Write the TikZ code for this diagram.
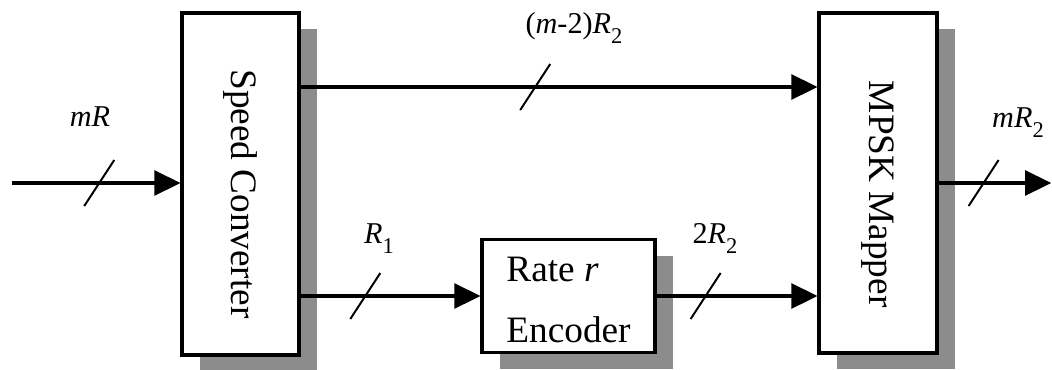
\documentclass[tikz,border=0pt]{standalone}
\usepackage{fontspec}
\setmainfont{Liberation Serif}
\usetikzlibrary{arrows.meta,positioning,shadows}
\newcommand{\idx}[1]{\raisebox{-0.35em}{\fontsize{16}{16}\selectfont #1}}

\begin{document}
\begin{tikzpicture}[
  block/.style={draw, line width=2.2pt, fill=white, drop shadow={shadow xshift=0.45cm, shadow yshift=-0.4cm, fill=black!45, opacity=1}},
  blocktext/.style={font=\fontsize{26.5}{44}\selectfont, inner sep=0pt},
  lbl/.style={font=\fontsize{21.5}{26}\selectfont, anchor=base, inner sep=0pt},
  arr/.style={-{Triangle[length=0.65cm, width=0.62cm]}, line width=2.4pt},
  tick/.style={line width=1.4pt},
]
  \useasboundingbox (0,0) rectangle (26.3,9.225);

  % Blocks
  \node[block, minimum width=2.925cm, minimum height=8.55cm] (conv) at (6.0125,4.625) {};
  \node[block, minimum width=4.325cm, minimum height=2.825cm] (enc) at (14.2125,1.825) {};
  \node[block, minimum width=2.95cm, minimum height=8.5cm] (mapper) at (21.95,4.65) {};

  % Block texts
  \node[blocktext, rotate=-90] (convtext) at ([yshift=-0.25cm]conv.center) {Speed Converter};
  \node[blocktext, rotate=-90] (maptext) at ([yshift=-0.28cm]mapper.center) {MPSK Mapper};
  \node[blocktext, align=left] (enctext) at ([yshift=-0.1cm]enc.center) {Rate \textit{r}\\Encoder};

  % Connectors
  \coordinate (in) at (0.3,4.65);
  \coordinate (out) at (26.28,4.65);
  \coordinate (hi) at ([yshift=2.425cm]conv.east);
  \draw[arr] (in) -- coordinate[pos=0.518] (t1) (in -| conv.west);
  \draw[arr] (hi) -- coordinate[pos=0.454] (t2) (hi -| mapper.west);
  \draw[arr] (conv.east |- enc.west) -- coordinate[pos=0.36] (t3) (enc.west);
  \draw[arr] (enc.east) -- coordinate[pos=0.305] (t4) (enc.east -| mapper.west);
  \draw[arr] (mapper.east) -- coordinate[pos=0.40] (t5) (out);

  % Bus slashes
  \foreach \t in {t1,t2,t3,t4,t5}
    \draw[tick] ([shift={(-0.375,-0.575)}]\t) -- ([shift={(0.375,0.575)}]\t);

  % Rate labels
  \node[lbl] (lin) at (2.25,6.075) {\textit{mR}};
  \node[lbl] (ltop) at (14.35,8.4) {(\textit{m}-2)\textit{R}\idx{2}};
  \node[lbl] (lrone) at (9.475,3.15) {\textit{R}\idx{1}};
  \node[lbl] (lenc) at (17.875,3.15) {2\textit{R}\idx{2}};
  \node[lbl] (lout) at (25.45,6.05) {\textit{mR}\idx{2}};
\end{tikzpicture}
\end{document}
